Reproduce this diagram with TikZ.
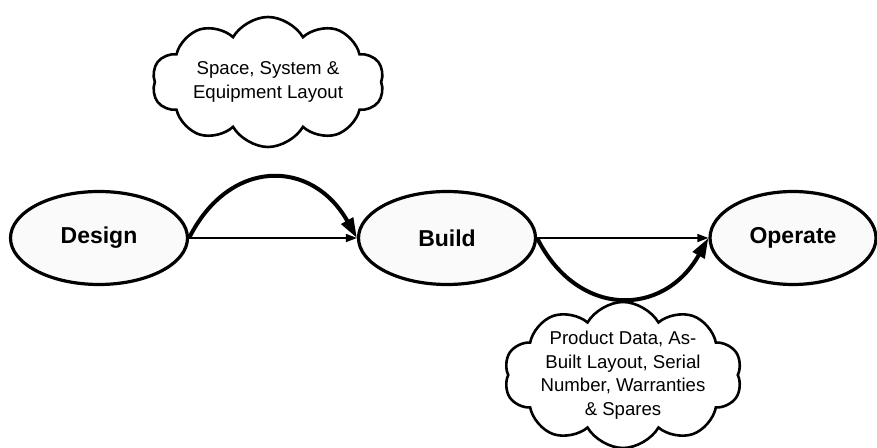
\documentclass[tikz,border=0pt]{standalone}
\usepackage{fontspec}
\setmainfont{Liberation Sans}
\usetikzlibrary{shapes.geometric, shapes.symbols, arrows.meta, positioning}
\tikzset{
    stage/.style={
        ellipse,
        draw=black,
        line width=3.2pt,
        minimum width=177pt,
        minimum height=93pt,
        inner sep=0pt,
        fill=gray!4,
        font=\fontsize{23}{27}\selectfont\bfseries
    },
    note/.style={
        cloud,
        cloud puffs=10,
        cloud puff arc=120,
        cloud ignores aspect,
        draw=black,
        line width=2.6pt,
        minimum width=232pt,
        minimum height=130pt,
        inner xsep=-6pt,
        inner ysep=-30pt,
        fill=white,
        align=center,
        font=\fontsize{18.6}{23.5}\selectfont
    },
    flow/.style={
        draw=black,
        line width=1.5pt,
        -{Triangle[length=11pt,width=8pt]}
    },
    handover/.style={
        draw=black,
        line width=4pt,
        -{Triangle[length=20pt,width=13pt]}
    }
}
\begin{document}
\begin{tikzpicture}[x=1pt, y=1pt]
\useasboundingbox (0,0) rectangle (877,447);

% Stages
\node[stage] (design) at (99,209) {Design};
\node[stage] (build) at (447,209) {Build};
\node[stage, minimum width=166pt] (operate) at (793,209) {Operate};

% Information clouds
\node[note] (layout) at (268,365) {Space, System \&\\Equipment Layout};
\node[note, minimum width=238pt, minimum height=146pt] (asbuilt) at (623,72) {Product Data, As-\\Built Layout, Serial\\Number, Warranties\\\& Spares};

% Process flow
\draw[flow] (design.east) -- (build.west);
\draw[flow] (build.east) -- (operate.west);

% Information handover
\draw[handover] (design.east) .. controls +(40,80) and +(-45,80) .. (build.west);
\draw[handover] (build.east) .. controls +(40,-80) and +(-45,-80) .. (operate.west);

\end{tikzpicture}
\end{document}
